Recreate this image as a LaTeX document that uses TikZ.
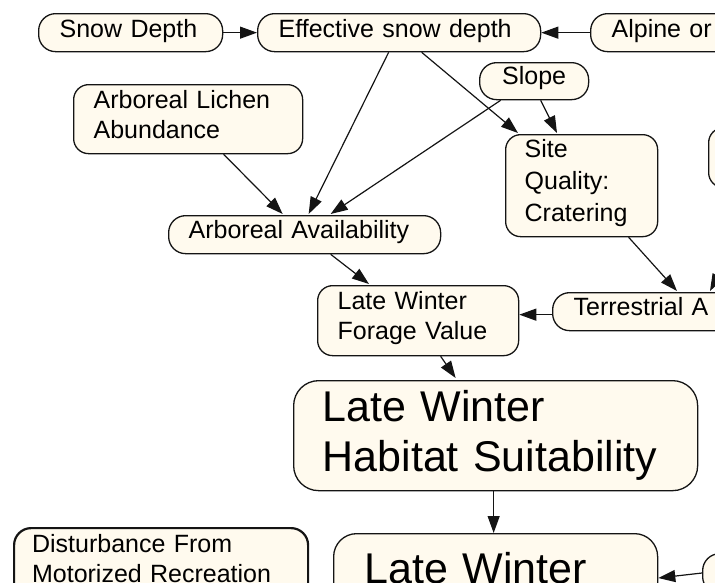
\documentclass[tikz,border=0pt]{standalone}
\usepackage{fontspec}
\setmainfont{Liberation Sans}
\usetikzlibrary{arrows.meta,calc}
\definecolor{cream}{RGB}{255,250,238}
\definecolor{edge}{RGB}{20,20,20}
\newcommand\lblfont{\fontsize{25pt}{30pt}\selectfont}
\newcommand\bigfont{\fontsize{43pt}{50pt}\selectfont}
\begin{document}
\begin{tikzpicture}[x=1pt,y=-1pt,
  box/.style={draw=edge, line width=1.3pt, fill=cream, rounded corners=15pt,
    inner sep=0pt, anchor=north west, align=left, font=\lblfont},
  pill/.style={box, rounded corners=17pt},
  bigbox/.style={box, rounded corners=25pt, font=\bigfont},
  arr/.style={draw=edge, line width=1.2pt, -{Triangle[length=17pt,width=12pt]}}]
\useasboundingbox (0,0) rectangle (715,582);
\clip (0,0) rectangle (715,582);

% nodes
\node[pill, text width=142pt, inner xsep=21pt, text height=24pt, text depth=14pt] (snow) at (38,13) {Snow Depth};
\node[pill, text width=241pt, inner xsep=21pt, text height=24pt, text depth=14pt] (eff) at (257,13) {Effective snow depth};
\node[pill, text width=158pt, inner xsep=21pt, text height=24pt, text depth=14pt] (alp) at (590,13) {Alpine or};
\node[pill, text width=109pt, align=center, text height=21.5pt, text depth=15.5pt] (slope) at (479,62) {Slope};
\node[box, text width=189pt, inner xsep=20pt, text height=24pt, text depth=45pt] (lich) at (73,84) {Arboreal Lichen\\Abundance};
\node[box, text width=114pt, inner xsep=19pt, text height=23pt, text depth=79pt,
  font=\fontsize{25pt}{32pt}\selectfont] (site) at (505,134) {Site\\Quality:\\Cratering};
\node[box, minimum width=142pt, minimum height=60pt] (rightA) at (708,127) {};
\node[pill, text width=232pt, inner xsep=20pt, text height=23.3pt, text depth=14.7pt] (arbav) at (168,215) {Arboreal Availability};
\node[box, text width=161pt, inner xsep=20pt, text height=24.3pt, text depth=45.7pt] (forage) at (317,285) {Late Winter\\Forage Value};
\node[pill, text width=208pt, inner xsep=21pt, text height=23pt, text depth=15pt] (terr) at (552,292) {Terrestrial A};
\node[bigbox, text width=346pt, inner xsep=29pt, text height=41pt, text depth=69pt] (habitat) at (293,380) {Late Winter\\Habitat Suitability};
\node[bigbox, rounded corners=23pt, text width=262pt, inner xsep=31pt, text height=50pt, text depth=60pt] (lwb) at (333,533) {Late Winter};
\node[box, line width=2.2pt, rounded corners=17pt, text width=258pt, inner xsep=18pt, text height=24pt, text depth=50pt] (dist) at (13,527) {Disturbance From\\Motorized Recreation};
\node[pill, minimum width=200pt, minimum height=40pt] (btm) at (702,553) {};

% connectors
\draw[arr] (snow.east) -- (eff.west);
\draw[arr] (alp.west) -- (eff.east);
\draw[arr] ($(lich.south)+(35.5,0)$) -- ($(arbav.north)+(-22,-1)$);
\draw[arr] ($(eff.south)+(-10.5,0)$) -- ($(arbav.north)+(4,-1)$);
\draw[arr] ($(slope.south)+(-33.5,0)$) -- ($(arbav.north)+(26,-1)$);
\draw[arr] ($(eff.south)+(22.5,0)$) -- ($(site.north west)+(13,-1)$);
\draw[arr] ($(slope.south)+(6.5,0)$) -- ($(site.north west)+(52,-1)$);
\draw[arr] ($(arbav.south)+(26,0)$) -- ($(forage.north west)+(52,-1)$);
\draw[arr] ($(site.south)+(47,0)$) -- ($(terr.north west)+(125,-1)$);
\draw[arr] ($(rightA.south west)+(57,0)$) -- ($(terr.north west)+(158,-1)$);
\draw[arr] ($(terr.west)+(0,3)$) -- ($(forage.east)+(0,-6)$);
\draw[arr] ($(forage.south)+(22.5,0)$) -- ($(habitat.north)+(-40,-2)$);
\draw[arr] ($(habitat.south)+(-2,0)$) -- ($(lwb.north)+(-2,0)$);
\draw[arr] ($(btm.north west)+(0,20)$) -- ($(lwb.north east)+(0,45)$);
\end{tikzpicture}
\end{document}
